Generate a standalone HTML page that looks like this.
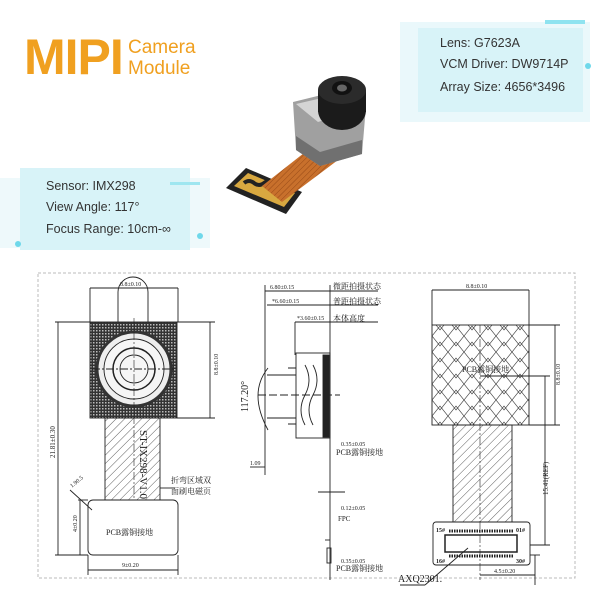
<!DOCTYPE html>
<html><head><meta charset="utf-8"><style>
html,body{margin:0;padding:0;background:#fff;}
svg{display:block;font-family:"Liberation Sans","Noto Sans CJK SC",sans-serif;}
.t{font-family:"Liberation Serif","Noto Serif CJK SC",serif;fill:#222;}
</style></head><body>
<svg width="600" height="600" viewBox="0 0 600 600" xmlns="http://www.w3.org/2000/svg">
<defs>
<pattern id="hat" width="6" height="6" patternUnits="userSpaceOnUse" patternTransform="rotate(45)">
<line x1="0" y1="0" x2="0" y2="6" stroke="#333" stroke-width="0.8"/></pattern>
<pattern id="mesh" width="3" height="3" patternUnits="userSpaceOnUse">
<rect width="3" height="3" fill="#333"/><rect width="1.5" height="1.5" fill="#bbb"/></pattern>
<pattern id="diam" width="16" height="16" patternUnits="userSpaceOnUse">
<path d="M0 0 L8 10 L16 0 M0 16 L8 6 L16 16" fill="none" stroke="#444" stroke-width="0.7"/></pattern>
<pattern id="flexp" width="4" height="4" patternUnits="userSpaceOnUse" patternTransform="rotate(45)">
<rect width="4" height="4" fill="#c8702c"/><line x1="0" y1="0" x2="0" y2="4" stroke="#8a4010" stroke-width="0.8"/></pattern>
</defs>

<!-- top info boxes -->
<rect x="400" y="22" width="190" height="100" fill="#eaf8fb"/>
<rect x="418" y="28" width="165" height="84" fill="#d8f3f8"/>
<rect x="545" y="20" width="40" height="4" fill="#8fe3f0"/>
<circle cx="588" cy="66" r="3" fill="#6fd8ea"/>
<text x="440" y="47" font-size="12.5" fill="#333">Lens: G7623A</text>
<text x="440" y="68" font-size="12.5" fill="#333">VCM Driver: DW9714P</text>
<text x="440" y="91" font-size="12.5" fill="#333">Array Size: 4656*3496</text>

<rect x="0" y="178" width="210" height="70" fill="#eef9fb"/>
<rect x="20" y="168" width="170" height="82" fill="#d8f3f8"/>
<rect x="170" y="182" width="30" height="3" fill="#9fe6f0"/>
<circle cx="200" cy="236" r="3" fill="#6fd8ea"/>
<circle cx="18" cy="244" r="3" fill="#6fd8ea"/>
<text x="46" y="190" font-size="12.5" fill="#333">Sensor: IMX298</text>
<text x="46" y="211" font-size="12.5" fill="#333">View Angle: 117°</text>
<text x="46" y="233" font-size="12.5" fill="#333">Focus Range: 10cm-∞</text>

<!-- MIPI title -->
<text x="24" y="74" font-size="50" font-weight="bold" fill="#f0a020" letter-spacing="-1">MIPI</text>
<text x="128" y="53" font-size="19" fill="#f0a020">Camera</text>
<text x="128" y="74" font-size="19" fill="#f0a020">Module</text>

<!-- camera photo -->
<g>
<polygon points="226,188 246,168 302,192 286,214" fill="#222"/>
<polygon points="234,186 248,173 295,193 284,207" fill="#d8a840"/>
<path d="M244,183 q5,-4 10,0 q5,4 10,0 q5,-4 10,0 q5,4 10,6" stroke="#222" stroke-width="4" fill="none"/>
<polygon points="262,186 318,142 338,160 282,202" fill="url(#flexp)"/>
<polygon points="293,102 350,88 366,106 362,154 320,166 296,150" fill="#a0a0a0"/>
<polygon points="296,150 320,166 362,154 362,140 320,152 296,136" fill="#707070"/>
<polygon points="296,104 348,92 362,108 318,122" fill="#d4d4d4"/>
<ellipse cx="342" cy="110" rx="24" ry="20" fill="#1b1b1b"/>
<rect x="318" y="90" width="48" height="22" fill="#1b1b1b"/>
<ellipse cx="342" cy="90" rx="24" ry="14" fill="#2b2b2b"/>
<ellipse cx="342" cy="88" rx="10" ry="7" fill="#111"/>
<ellipse cx="342" cy="88" rx="5" ry="3.5" fill="#666"/>
</g>

<!-- drawing frame -->
<rect x="38" y="273" width="537" height="305" fill="none" stroke="#bbb" stroke-dasharray="3,2"/>

<!-- LEFT VIEW -->
<g stroke="#222" fill="none" stroke-width="0.9">
<path d="M118,322 V292 a15,15 0 0 1 30,0 V322"/>
<rect x="90" y="322" width="87" height="96" fill="url(#mesh)"/>
<circle cx="134" cy="369" r="37" fill="#eee" stroke="#333" stroke-width="3"/>
<circle cx="134" cy="369" r="30" fill="#f6f6f6"/>
<circle cx="134" cy="369" r="21" stroke-width="1.5"/>
<circle cx="134" cy="369" r="14"/>
<line x1="134" y1="318" x2="134" y2="545" stroke-dasharray="8,2,2,2" stroke-width="0.6"/>
<line x1="92" y1="369" x2="176" y2="369" stroke-dasharray="8,2,2,2"/>
<rect x="105" y="418" width="55" height="82" fill="url(#hat)"/>
<rect x="88" y="500" width="90" height="55" rx="5" fill="#fff"/>
<line x1="90" y1="288" x2="178" y2="288"/><line x1="90" y1="288" x2="90" y2="322"/><line x1="178" y1="288" x2="178" y2="322"/>
<line x1="55" y1="322" x2="90" y2="322"/><line x1="58" y1="322" x2="58" y2="555"/><line x1="55" y1="555" x2="88" y2="555"/>
<line x1="177" y1="322" x2="215" y2="322"/><line x1="177" y1="418" x2="215" y2="418"/><line x1="210" y1="322" x2="210" y2="418"/>
<line x1="78" y1="500" x2="88" y2="500"/><line x1="80" y1="500" x2="80" y2="555"/>
<line x1="88" y1="555" x2="88" y2="575"/><line x1="178" y1="555" x2="178" y2="575"/><line x1="88" y1="570" x2="178" y2="570"/>
<line x1="70" y1="490" x2="92" y2="510"/>
<line x1="160" y1="488" x2="175" y2="488"/>
</g>
<text class="t" x="120" y="286" font-size="6">8.8±0.10</text>
<text class="t" transform="translate(55,458) rotate(-90)" font-size="7">21.81±0.30</text>
<text class="t" transform="translate(218,375) rotate(-90)" font-size="6">8.8±0.10</text>
<text class="t" transform="translate(77,532) rotate(-90)" font-size="6">4±0.20</text>
<text class="t" transform="translate(72,488) rotate(-40)" font-size="6">1.90.5</text>
<text class="t" x="122" y="567" font-size="6">9±0.20</text>
<text class="t" x="106" y="535" font-size="8">PCB露铜接地</text>
<text class="t" x="171" y="483" font-size="8">折弯区域双</text>
<text class="t" x="171" y="494" font-size="8">面刷电磁页</text>
<text class="t" transform="translate(140,430) rotate(90)" font-size="11">ST-IX298-V1.0</text>

<!-- MIDDLE VIEW -->
<g stroke="#222" fill="none" stroke-width="0.9">
<line x1="330" y1="285" x2="330" y2="580"/>
<line x1="265" y1="285" x2="265" y2="475"/>
<line x1="265" y1="291" x2="378" y2="291"/>
<line x1="267" y1="305" x2="378" y2="305"/>
<line x1="295" y1="322" x2="378" y2="322"/>
<line x1="295" y1="322" x2="295" y2="355"/>
<rect x="296" y="353" width="34" height="85"/>
<rect x="323" y="355" width="6" height="82" fill="#222"/>
<path d="M296,368 H288 M296,424 H288 M267,375 H296 M267,418 H296"/>
<path d="M305,365 q8,15 0,30 q-8,15 0,30"/>
<path d="M313,365 q8,15 0,30 q-8,15 0,30"/>
<line x1="258" y1="395" x2="340" y2="395" stroke-dasharray="8,3"/>
<path d="M268,368 q-20,25 0,62"/>
<line x1="250" y1="467" x2="265" y2="467"/>
<line x1="325" y1="540" x2="330" y2="540"/>
<rect x="327" y="548" width="4" height="15"/>
<line x1="318" y1="492" x2="345" y2="492"/>
</g>
<text class="t" x="270" y="289" font-size="6">6.80±0.15</text>
<text class="t" x="272" y="303" font-size="6">*6.60±0.15</text>
<text class="t" x="297" y="320" font-size="6">*3.60±0.15</text>
<text class="t" x="333" y="289" font-size="8">微距拍摄状态</text>
<text class="t" x="333" y="304" font-size="8">普距拍摄状态</text>
<text class="t" x="333" y="321" font-size="8">本体高度</text>
<text class="t" transform="translate(248,412) rotate(-90)" font-size="10">117.20°</text>
<text class="t" x="250" y="465" font-size="6">1.09</text>
<text class="t" x="341" y="446" font-size="6">0.35±0.05</text>
<text class="t" x="336" y="455" font-size="8">PCB露铜接地</text>
<text class="t" x="341" y="510" font-size="6">0.12±0.05</text>
<text class="t" x="338" y="521" font-size="7">FPC</text>
<text class="t" x="341" y="563" font-size="6">0.35±0.05</text>
<text class="t" x="336" y="571" font-size="8">PCB露铜接地</text>

<!-- RIGHT VIEW -->
<g stroke="#222" fill="none" stroke-width="0.9">
<rect x="432" y="325" width="97" height="100" fill="url(#diam)"/>
<rect x="453" y="425" width="59" height="97" fill="url(#hat)"/>
<rect x="433" y="522" width="97" height="43" rx="3" fill="#fff"/>
<rect x="445" y="535" width="72" height="17" stroke-width="1.5"/>
<line x1="449" y1="531" x2="513" y2="531" stroke-dasharray="1.5,1" stroke-width="3"/>
<line x1="449" y1="556" x2="513" y2="556" stroke-dasharray="1.5,1" stroke-width="3"/>
<line x1="480" y1="325" x2="480" y2="580" stroke-dasharray="8,2,2,2" stroke-width="0.6"/>
<line x1="432" y1="290" x2="529" y2="290"/><line x1="432" y1="290" x2="432" y2="325"/><line x1="529" y1="290" x2="529" y2="325"/>
<line x1="529" y1="325" x2="560" y2="325"/><line x1="529" y1="425" x2="560" y2="425"/><line x1="555" y1="325" x2="555" y2="425"/>
<line x1="480" y1="376" x2="550" y2="376"/><line x1="545" y1="376" x2="545" y2="545"/><line x1="530" y1="545" x2="550" y2="545"/>
<line x1="530" y1="555" x2="540" y2="555"/><line x1="535" y1="555" x2="535" y2="585"/>
<line x1="480" y1="575" x2="535" y2="575"/>
<line x1="468" y1="548" x2="425" y2="585"/>
<line x1="400" y1="585" x2="425" y2="585"/>
</g>
<text class="t" x="466" y="288" font-size="6">8.8±0.10</text>
<text class="t" transform="translate(560,385) rotate(-90)" font-size="6">8.8±0.10</text>
<text class="t" transform="translate(548,495) rotate(-90)" font-size="7">15.41(REF)</text>
<text class="t" x="462" y="372" font-size="8">PCB露铜接地</text>
<text class="t" x="398" y="582" font-size="10">AXQ2301.</text>
<text class="t" x="494" y="573" font-size="6">4.5±0.20</text>
<text class="t" x="436" y="532" font-size="6" font-weight="bold">15#</text>
<text class="t" x="516" y="532" font-size="6" font-weight="bold">01#</text>
<text class="t" x="436" y="563" font-size="6" font-weight="bold">16#</text>
<text class="t" x="516" y="563" font-size="6" font-weight="bold">30#</text>
</svg>
</body></html>
